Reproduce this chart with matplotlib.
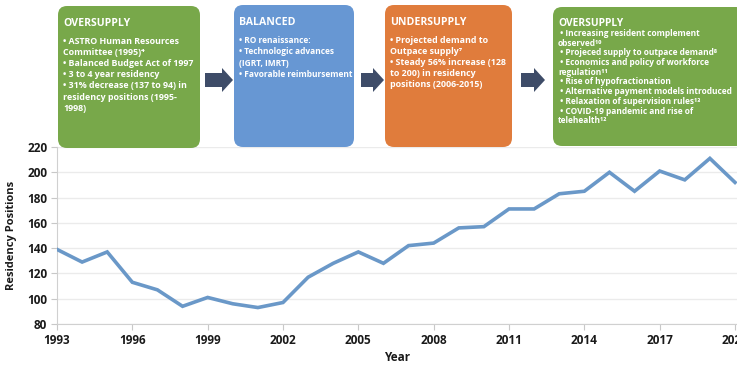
import matplotlib
matplotlib.use("Agg")
import matplotlib.pyplot as plt
from matplotlib.patches import FancyBboxPatch, FancyArrow
import numpy as np

plt.rcParams['font.family'] = ['Open Sans', 'DejaVu Sans']

years = list(range(1993, 2021))
positions = [139, 129, 137, 113, 107, 94, 101, 96, 93, 97, 117, 128, 137,
             128, 142, 144, 156, 157, 171, 171, 183, 185, 200, 185, 201, 194, 211, 192]
xticks = [1993, 1996, 1999, 2002, 2005, 2008, 2011, 2014, 2017, 2020]
yticks = [80, 100, 120, 140, 160, 180, 200, 220]

box_titles = ["OVERSUPPLY", "BALANCED", "UNDERSUPPLY", "OVERSUPPLY"]
box_texts = [
    "• ASTRO Human Resources\nCommittee (1995)⁴\n• Balanced Budget Act of 1997\n• 3 to 4 year residency\n• 31% decrease (137 to 94) in\nresidency positions (1995-\n1998)",
    "• RO renaissance:\n• Technologic advances\n(IGRT, IMRT)\n• Favorable reimbursement",
    "• Projected demand to\nOutpace supply⁷\n• Steady 56% increase (128\nto 200) in residency\npositions (2006-2015)",
    " • Increasing resident complement\nobserved¹⁰\n • Projeced supply to outpace demand⁸\n • Economics and policy of workforce\nregulation¹¹\n • Rise of hypofractionation\n • Alternative payment models introduced\n • Relaxation of supervision rules¹³\n • COVID-19 pandemic and rise of\ntelehealth¹²",
]
box_colors = ["#78a84a", "#6797d3", "#e07c3c", "#78a84a"]

W, H = 737, 391
fig = plt.figure(figsize=(W / 100, H / 100), dpi=100)

# main axes (pixel layout)
ax_l, ax_r, ax_t, ax_b = 57, 737, 147, 324
ax = fig.add_axes([ax_l / W, 1 - ax_b / H, (ax_r - ax_l) / W, (ax_b - ax_t) / H])
ax.plot(years, positions, color="#6a98c8", lw=2.6, solid_joinstyle='miter', zorder=3)
ax.set_xlim(1993, 2020.08)
ax.set_ylim(80, 220)
ax.set_xticks(xticks)
ax.set_xticklabels([str(t) for t in xticks])
ax.set_yticks(yticks)
ax.grid(axis='y', color="#ebebeb", lw=1)
ax.set_axisbelow(True)
for s in ['top', 'right']:
    ax.spines[s].set_visible(False)
for s in ['left', 'bottom']:
    ax.spines[s].set_color("#d0d0d0")
ax.tick_params(axis='both', colors="#c8c8c8", length=4, labelcolor="#1a1a1a",
               labelsize=8.5, pad=3)
for lab in ax.get_xticklabels() + ax.get_yticklabels():
    lab.set_fontweight('bold')
ax.set_xlabel("Year", fontsize=8.5, fontweight='bold', color="#1a1a1a", labelpad=3)
ax.set_ylabel("Residency Positions", fontsize=8, fontweight='bold', color="#1a1a1a", labelpad=7)

# overlay axes for boxes
ov = fig.add_axes([0, 0, 1, 1], zorder=5)
ov.set_xlim(0, W)
ov.set_ylim(H, 0)
ov.axis('off')

boxes = [(58, 6, 200, 148), (234, 5, 354, 147), (385, 5, 512, 147), (553, 7, 745, 146)]
title_fs = [7.6, 7.6, 7.6, 7.4]
body_fs = [6.4, 6.0, 6.4, 6.0]
line_sp = [1.3, 1.35, 1.3, 1.1]
body_off = [31, 31, 31, 22]
title_off = [12, 12, 12, 11]
for (x0, y0, x1, y1), t, body, c, tfs, bfs, ls, bo, to in zip(
        boxes, box_titles, box_texts, box_colors, title_fs, body_fs, line_sp, body_off, title_off):
    p = FancyBboxPatch((x0, y0), x1 - x0, y1 - y0,
                       boxstyle="round,pad=0,rounding_size=9",
                       fc=c, ec='none', mutation_aspect=1)
    ov.add_patch(p)
    ov.text(x0 + 5, y0 + to, t, color='white', fontsize=tfs, fontweight='bold',
            va='top', ha='left')
    ov.text(x0 + 5, y0 + bo, body, color='white', fontsize=bfs,
            fontweight='bold', va='top', ha='left', linespacing=ls)

for (xa, xb) in [(205, 233), (361, 384), (521, 545)]:
    arr = FancyArrow(xa, 80, xb - xa, 0, width=14, head_width=24,
                     head_length=11, length_includes_head=True,
                     fc="#3e4c68", ec='none')
    ov.add_patch(arr)

fig.savefig("out.png", dpi=100)
